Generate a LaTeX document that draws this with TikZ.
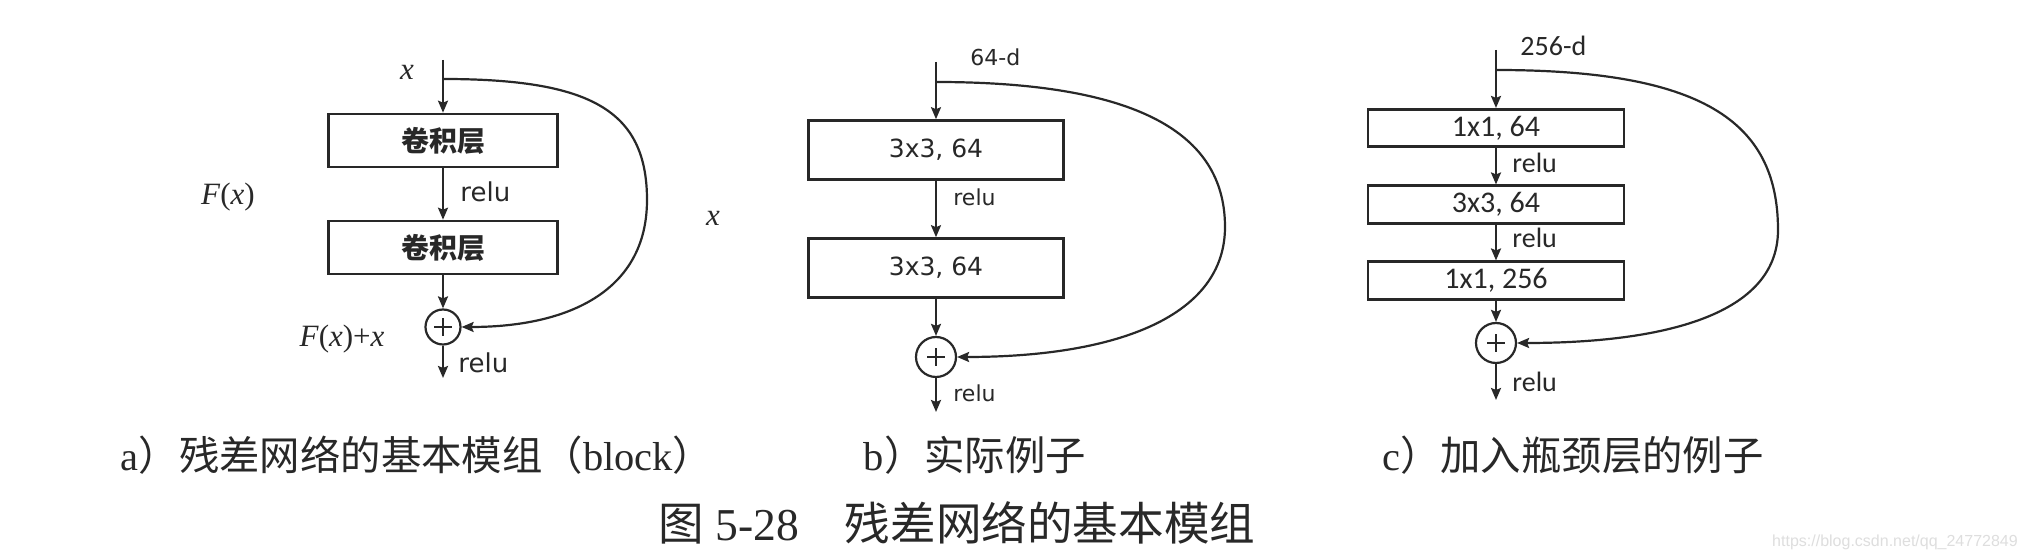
\documentclass[tikz,border=0pt]{standalone}
\usepackage{fontspec}
\setmainfont{Liberation Serif}
\newfontfamily\cjkfont{Noto Sans CJK SC}
\newfontfamily\verdfont{DejaVu Sans}
\newfontfamily\calfont{Carlito}
\newfontfamily\markfont{Liberation Sans}
\usetikzlibrary{arrows.meta,positioning}
\definecolor{ink}{RGB}{40,40,40}
\tikzset{
  layer/.style={draw=ink, line width=1.3pt, inner sep=0pt, text=ink},
  layerA/.style={layer, minimum width=114.5pt, minimum height=26.5pt,
              font=\cjkfont\bfseries\fontsize{14}{15}\selectfont},
  layerB/.style={layer, minimum width=127.5pt, minimum height=29.5pt,
              font=\verdfont\fontsize{12.5}{14}\selectfont},
  layerC/.style={layer, minimum width=128pt, minimum height=18.75pt,
              font=\calfont\fontsize{15}{16}\selectfont},
  addnode/.style={circle, draw=ink, line width=1.1pt, inner sep=0pt, minimum size=#1,
              path picture={\draw[ink, line width=1pt]
                ([xshift=-4.5pt]path picture bounding box.center) -- ([xshift=4.5pt]path picture bounding box.center)
                ([yshift=-4.5pt]path picture bounding box.center) -- ([yshift=4.5pt]path picture bounding box.center);}},
  addnode/.default=20pt,
  flow/.style={-{Stealth[length=6pt,width=5pt,inset=1pt]}, ink, line width=1.1pt},
  act/.style={anchor=west, inner sep=0pt, text=ink},
  actA/.style={act, font=\verdfont\fontsize{13}{14}\selectfont},
  actB/.style={act, font=\verdfont\fontsize{11}{12}\selectfont},
  actC/.style={act, font=\calfont\fontsize{14}{15}\selectfont},
  sym/.style={inner sep=0pt, text=ink, font=\fontsize{15.5}{17}\selectfont},
  caption/.style={inner sep=0pt, text=ink, font=\fontsize{20.2}{22}\selectfont},
}

\begin{document}
\begin{tikzpicture}[x=0.5pt, y=-0.5pt]
    \useasboundingbox[fill=white] (0,0) rectangle (2026,560);

    % a) basic block
    \coordinate (a-top) at (443,60);
    \coordinate (a-split) at (443,79);
    \node[layerA] (a-l1) at (443,140.5) {卷积层};
    \node[layerA] (a-l2) at (443,247.5) {卷积层};
    \node[addnode=17.5pt] (a-add) at (443,327) {};
    \coordinate (a-out) at (443,378);
    \draw[flow] (a-top) -- (a-l1);
    \draw[flow] (a-l1) -- (a-l2);
    \draw[flow] (a-l2) -- (a-add);
    \draw[flow] (a-add) -- (a-out);
    \draw[flow] (a-split) .. controls (590,79) and (647,110) .. (647,200)
                          .. controls (647,290) and (570,327) .. (a-add.east);
    \node[sym] (a-x) at (407,72) {\textit{x}};
    \node[sym] (a-f) at (228,197) {\textit{F}(\textit{x})};
    \node[sym] (a-sum) at (342,339) {\textit{F}(\textit{x})+\textit{x}};
    \node[actA] (a-r1) at (460,192) {relu};
    \node[actA] (a-r2) at (458,363) {relu};

    % b) example
    \coordinate (b-top) at (936,62);
    \coordinate (b-split) at (936,82);
    \node[layerB] (b-l1) at (936,150) {3x3, 64};
    \node[layerB] (b-l2) at (936,268) {3x3, 64};
    \node[addnode] (b-add) at (936,357) {};
    \coordinate (b-out) at (936,412);
    \draw[flow] (b-top) -- (b-l1);
    \draw[flow] (b-l1) -- (b-l2);
    \draw[flow] (b-l2) -- (b-add);
    \draw[flow] (b-add) -- (b-out);
    \draw[flow] (b-split) .. controls (1150,82) and (1225,140) .. (1225,227)
                          .. controls (1225,315) and (1120,357) .. (b-add.east);
    \node[actB] (b-dim) at (970,57) {64-d};
    \node[sym] (b-x) at (713,218) {\textit{x}};
    \node[actB] (b-r1) at (953,197) {relu};
    \node[actB] (b-r2) at (953,393) {relu};

    % c) bottleneck
    \coordinate (c-top) at (1496,50);
    \coordinate (c-split) at (1496,70);
    \node[layerC] (c-l1) at (1496,128) {1x1, 64};
    \node[layerC] (c-l2) at (1496,204.5) {3x3, 64};
    \node[layerC] (c-l3) at (1496,280.5) {1x1, 256};
    \node[addnode] (c-add) at (1496,343) {};
    \coordinate (c-out) at (1496,400);
    \draw[flow] (c-top) -- (c-l1);
    \draw[flow] (c-l1) -- (c-l2);
    \draw[flow] (c-l2) -- (c-l3);
    \draw[flow] (c-l3) -- (c-add);
    \draw[flow] (c-add) -- (c-out);
    \draw[flow] (c-split) .. controls (1700,70) and (1778,120) .. (1778,230)
                          .. controls (1778,320) and (1650,343) .. (c-add.east);
    \node[actC] (c-dim) at (1520,46) {256-d};
    \node[actC] (c-r1) at (1512,163) {relu};
    \node[actC] (c-r2) at (1512,238) {relu};
    \node[actC] (c-r3) at (1512,382) {relu};

    % captions
    \node[caption] (cap-a) at (417,455) {a{\cjkfont ）残差网络的基本模组（}block{\cjkfont ）}};
    \node[caption] (cap-b) at (975,455) {b{\cjkfont ）实际例子}};
    \node[caption] (cap-c) at (1573,455) {c{\cjkfont ）加入瓶颈层的例子}};
    \node[caption, font=\fontsize{22.8}{24}\selectfont] (cap) at (957,523)
        {{\cjkfont 图} 5-28{\cjkfont 　残差网络的基本模组}};
    \node[inner sep=0pt, text=black!13, font=\markfont\fontsize{8}{9}\selectfont] (mark) at (1895,542)
        {https://blog.csdn.net/qq\_24772849};
\end{tikzpicture}
\end{document}
